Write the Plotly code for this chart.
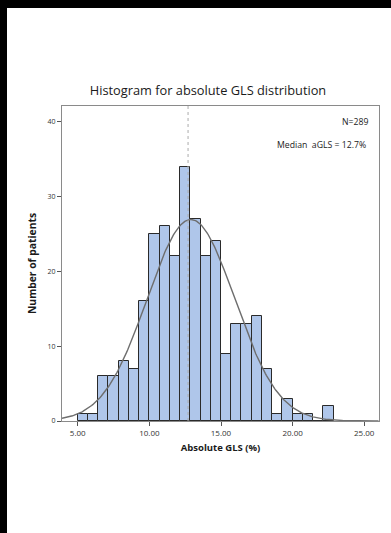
import numpy as np
import plotly.graph_objects as go

# Histogram bins (absolute GLS, %) and patient counts per bin
bin_start = 5.0
bin_width = 5.0 / 7.0
counts = [1, 1, 6, 6, 8, 7, 16, 25, 26, 22, 34, 27, 22, 24,
          9, 13, 13, 14, 7, 1, 3, 1, 1, 0, 2]
median_gls = 12.7
n_patients = 289
x_ticks = [5, 10, 15, 20, 25]
x_tick_labels = ["5.00", "10.00", "15.00", "20.00", "25.00"]
y_ticks = [0, 10, 20, 30, 40]

counts_arr = np.array(counts, dtype=float)
mids = bin_start + bin_width * (np.arange(len(counts)) + 0.5)

# Normal curve fitted to the binned data, scaled to counts
mean = np.sum(mids * counts_arr) / counts_arr.sum()
sd = np.sqrt(np.sum(counts_arr * (mids - mean) ** 2) / (counts_arr.sum() - 1))
xc = np.linspace(3.9, 26.0, 300)
yc = counts_arr.sum() * bin_width / (sd * np.sqrt(2 * np.pi)) * np.exp(-0.5 * ((xc - mean) / sd) ** 2)

fig = go.Figure()
fig.add_trace(go.Bar(
    x=mids, y=counts, width=bin_width,
    marker=dict(color="#AFC6EA", line=dict(color="#2a2a2a", width=1)),
    hoverinfo="x+y",
))
fig.add_trace(go.Scatter(
    x=xc, y=yc, mode="lines",
    line=dict(color="#6e6e6e", width=1.4),
    hoverinfo="skip",
))

# Median marker
fig.add_shape(type="line", xref="x", yref="paper", x0=median_gls, x1=median_gls,
              y0=0, y1=1, line=dict(color="#ababab", width=1, dash="dot"), layer="above")

# Dark border strips along the left and top edges of the page
pw, ph = 317.0, 315.0
fig.add_shape(type="rect", xref="paper", yref="paper",
              x0=-62 / pw - 0.01, x1=(7 - 62) / pw, y0=-112 / ph - 0.01, y1=421 / ph + 0.01,
              fillcolor="black", line=dict(width=0), layer="below")
fig.add_shape(type="rect", xref="paper", yref="paper",
              x0=-62 / pw - 0.01, x1=329 / pw + 0.01, y0=(421 - 8) / ph, y1=421 / ph + 0.01,
              fillcolor="black", line=dict(width=0), layer="below")

fig.add_annotation(text=f"N={n_patients}", xref="paper", yref="paper", x=(370 - 62) / pw, y=(421 - 121.5) / ph,
                   xanchor="right", yanchor="middle", showarrow=False,
                   font=dict(family="Open Sans", size=8.7, color="#222"))
fig.add_annotation(text=f"Median  aGLS = {median_gls}%", xref="paper", yref="paper",
                   x=(368 - 62) / pw, y=(421 - 145) / ph,
                   xanchor="right", yanchor="middle", showarrow=False,
                   font=dict(family="Open Sans", size=8.7, color="#222"))

fig.update_layout(
    width=391, height=533,
    margin=dict(l=62, r=12, t=106, b=112),
    paper_bgcolor="white", plot_bgcolor="white",
    showlegend=False, bargap=0,
    title=dict(text="Histogram for absolute GLS distribution", x=208 / 391, xanchor="center",
               y=1 - 91 / 533, yanchor="middle",
               font=dict(family="Open Sans", size=12.8, color="#1a1a1a")),
    font=dict(family="Open Sans", color="#333"),
)
fig.update_xaxes(
    range=[3.9, 26.03], tickvals=x_ticks, ticktext=x_tick_labels,
    ticks="outside", ticklen=4, tickcolor="#555", tickwidth=1,
    showline=True, linecolor="#8a8a8a", linewidth=1, mirror=True,
    showgrid=False, zeroline=False,
    tickfont=dict(family="Open Sans", size=8, color="#333"),
    title=dict(text="<b>Absolute GLS (%)</b>", standoff=7,
               font=dict(family="Open Sans", size=9.5, color="#1a1a1a")),
)
fig.update_yaxes(
    range=[0, 42.1], tickvals=y_ticks,
    ticks="outside", ticklen=4, tickcolor="#555", tickwidth=1,
    showline=True, linecolor="#8a8a8a", linewidth=1, mirror=True,
    showgrid=False, zeroline=False,
    tickfont=dict(family="Open Sans", size=7, color="#333"),
    title=dict(text="<b>Number of patients</b>", standoff=8,
               font=dict(family="Open Sans", size=10.3, color="#1a1a1a")),
)

fig.write_html("out.html")
